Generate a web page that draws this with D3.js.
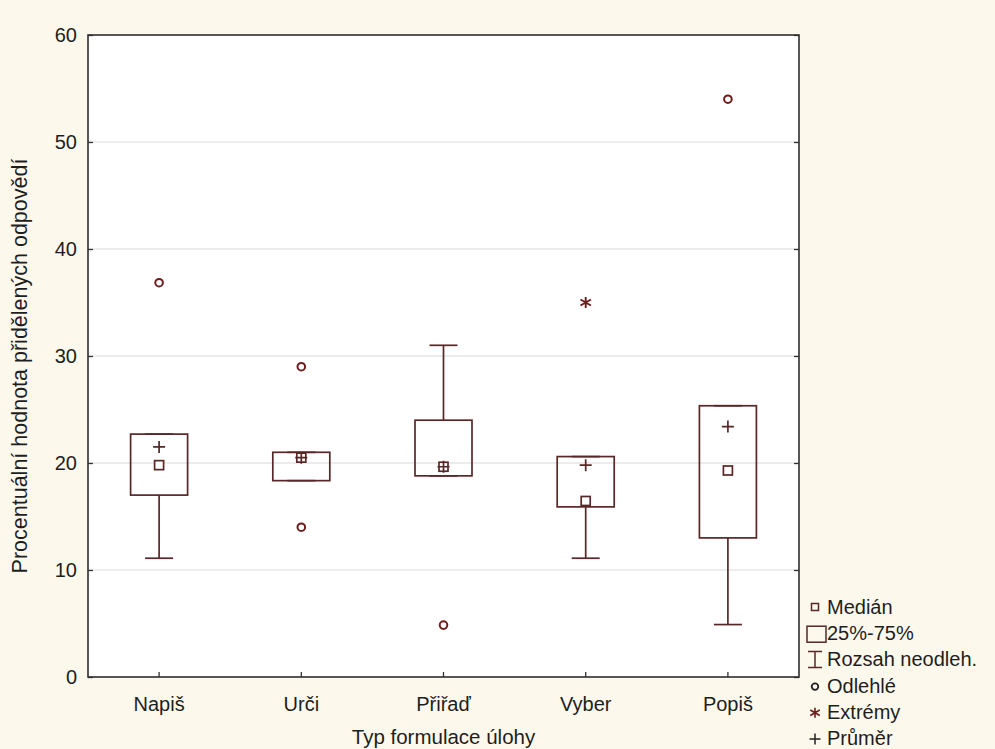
<!DOCTYPE html>
<html><head><meta charset="utf-8">
<script src="https://cdn.jsdelivr.net/npm/d3@7"></script>
<style>
html,body{margin:0;padding:0;background:#fcf8ec;}
svg{display:block;font-family:"Liberation Sans",Arial,sans-serif;}
</style></head><body>
<svg id="chart" width="995" height="749"></svg>
<script>
// ---- data ----
const categories = ["Napiš", "Urči", "Přiřaď", "Vyber", "Popiš"];
const q1         = [17.0, 18.35, 18.8, 15.9, 13.0];
const q3         = [22.7, 21.0, 24.0, 20.6, 25.35];
const medians    = [19.8, 20.5, 19.65, 16.45, 19.3];
const means      = [21.5, 20.5, 19.65, 19.8, 23.4];
const whiskerLow = [11.1, 18.35, 18.8, 11.1, 4.9];
const whiskerHigh= [22.7, 21.0, 31.0, 20.6, 25.35];
const outliers   = [["Napiš", 36.85], ["Urči", 29.0], ["Urči", 14.0], ["Přiřaď", 4.85], ["Popiš", 54.0]];
const extremes   = [["Vyber", 35.0]];
const yTicks     = [0, 10, 20, 30, 40, 50, 60];
const legendLabels = ["Medián", "25%-75%", "Rozsah neodleh.", "Odlehlé", "Extrémy", "Průměr"];
const xTitle = "Typ formulace úlohy";
const yTitle = "Procentuální hodnota přidělených odpovědí";

// ---- layout ----
const L = 88, T = 35, R = 799, B = 677;
const stroke = "#5a2727", mark = "#6e1d1d", textCol = "#1e1e1e";
const svg = d3.select("#chart");
svg.append("rect").attr("width", 995).attr("height", 749).attr("fill", "#fcf8ec");
svg.append("rect").attr("x", L).attr("y", T).attr("width", R - L).attr("height", B - T).attr("fill", "#ffffff");

const x = d3.scaleBand().domain(categories).range([L, R]);
const y = d3.scaleLinear().domain([0, 60]).range([B, T]);
const cx = c => x(c) + x.bandwidth() / 2;

// gridlines
svg.append("g").selectAll("line").data(yTicks.filter(t => t > 0 && t < 60)).join("line")
  .attr("x1", L).attr("x2", R).attr("y1", d => y(d)).attr("y2", d => y(d))
  .attr("stroke", "#d9d9d9").attr("stroke-width", 1.2);

// axes
const yAxis = svg.append("g").attr("transform", `translate(${L},0)`)
  .call(d3.axisLeft(y).tickValues(yTicks).tickSize(0).tickPadding(11));
const yAxisR = svg.append("g").attr("transform", `translate(${R},0)`)
  .call(d3.axisLeft(y).tickValues(yTicks).tickSize(5).tickFormat(""));
const yAxisL2 = svg.append("g").attr("transform", `translate(${L},0)`)
  .call(d3.axisRight(y).tickValues(yTicks).tickSize(5).tickFormat(""));
const xAxis = svg.append("g").attr("transform", `translate(0,${B})`)
  .call(d3.axisBottom(x).tickSize(0).tickPadding(20));
const xAxisTicks = svg.append("g").attr("transform", `translate(0,${B})`)
  .call(d3.axisTop(x).tickSize(5).tickFormat(""));
[yAxis, yAxisR, yAxisL2, xAxis, xAxisTicks].forEach(g => {
  g.select(".domain").remove();
  g.selectAll(".tick line").attr("stroke", "#333").attr("stroke-width", 1.3);
  g.selectAll("text").attr("font-size", 20).attr("fill", textCol).attr("font-family", "Liberation Sans, Arial, sans-serif");
});

// frame
svg.append("rect").attr("x", L).attr("y", T).attr("width", R - L).attr("height", B - T)
  .attr("fill", "none").attr("stroke", "#2e2e2e").attr("stroke-width", 1.6);

// boxes
const boxW = 57, capW = 28;
const g = svg.append("g");
categories.forEach((c, i) => {
  const X = cx(c);
  g.append("line").attr("x1", X).attr("x2", X).attr("y1", y(q1[i])).attr("y2", y(whiskerLow[i])).attr("stroke", stroke).attr("stroke-width", 1.7);
  g.append("line").attr("x1", X).attr("x2", X).attr("y1", y(q3[i])).attr("y2", y(whiskerHigh[i])).attr("stroke", stroke).attr("stroke-width", 1.7);
  [whiskerLow[i], whiskerHigh[i]].forEach(v => {
    g.append("line").attr("x1", X - capW / 2).attr("x2", X + capW / 2).attr("y1", y(v)).attr("y2", y(v)).attr("stroke", stroke).attr("stroke-width", 1.7);
  });
  g.append("rect").attr("x", X - boxW / 2).attr("y", y(q3[i])).attr("width", boxW).attr("height", y(q1[i]) - y(q3[i]))
    .attr("fill", "none").attr("stroke", stroke).attr("stroke-width", 1.7);
  g.append("rect").attr("x", X - 4.5).attr("y", y(medians[i]) - 4.5).attr("width", 9).attr("height", 9)
    .attr("fill", "#fff").attr("stroke", stroke).attr("stroke-width", 1.7);
  g.append("path").attr("d", `M${X - 6},${y(means[i])}H${X + 6}M${X},${y(means[i]) - 6}V${y(means[i]) + 6}`)
    .attr("stroke", stroke).attr("stroke-width", 1.7);
});
// outliers
g.selectAll("circle.out").data(outliers).join("circle").attr("class", "out")
  .attr("cx", d => cx(d[0])).attr("cy", d => y(d[1])).attr("r", 3.8)
  .attr("fill", "none").attr("stroke", mark).attr("stroke-width", 2);
// extremes (asterisk)
extremes.forEach(d => {
  const X = cx(d[0]), Y = y(d[1]), r = 5.5;
  const p = d3.path();
  p.moveTo(X, Y - r); p.lineTo(X, Y + r);
  p.moveTo(X - r * 0.95, Y - r * 0.55); p.lineTo(X + r * 0.95, Y + r * 0.55);
  p.moveTo(X - r * 0.95, Y + r * 0.55); p.lineTo(X + r * 0.95, Y - r * 0.55);
  g.append("path").attr("d", p.toString()).attr("stroke", mark).attr("stroke-width", 1.9);
});

// titles
svg.append("text").attr("x", (L + R) / 2).attr("y", 744).attr("text-anchor", "middle")
  .attr("font-size", 20.5).attr("fill", textCol).text(xTitle);
svg.append("text").attr("transform", `translate(27,366) rotate(-90)`).attr("text-anchor", "middle")
  .attr("font-size", 21.5).attr("fill", textCol).text(yTitle);

// legend
const lx = 815, ly0 = 607, lstep = 26.2;
const lg = svg.append("g");
legendLabels.forEach((t, i) => {
  const Y = ly0 + i * lstep;
  lg.append("text").attr("x", 827).attr("y", Y + 7).attr("font-size", 20).attr("fill", textCol).text(t);
  if (i === 0) lg.append("rect").attr("x", lx - 3.5).attr("y", Y - 3.5).attr("width", 7).attr("height", 7).attr("fill", "none").attr("stroke", stroke).attr("stroke-width", 1.5);
  if (i === 1) lg.append("rect").attr("x", lx - 8).attr("y", Y - 7).attr("width", 19).attr("height", 16).attr("fill", "none").attr("stroke", stroke).attr("stroke-width", 1.5);
  if (i === 2) lg.append("path").attr("d", `M${lx - 7},${Y - 8}H${lx + 7}M${lx},${Y - 8}V${Y + 8}M${lx - 7},${Y + 8}H${lx + 7}`).attr("stroke", stroke).attr("stroke-width", 1.5).attr("fill", "none");
  if (i === 3) lg.append("circle").attr("cx", lx).attr("cy", Y + 1).attr("r", 3.3).attr("fill", "none").attr("stroke", "#222").attr("stroke-width", 1.8);
  if (i === 4) {
    const r = 5, X = lx, YY = Y + 1, p = d3.path();
    p.moveTo(X, YY - r); p.lineTo(X, YY + r);
    p.moveTo(X - r * 0.95, YY - r * 0.55); p.lineTo(X + r * 0.95, YY + r * 0.55);
    p.moveTo(X - r * 0.95, YY + r * 0.55); p.lineTo(X + r * 0.95, YY - r * 0.55);
    lg.append("path").attr("d", p.toString()).attr("stroke", mark).attr("stroke-width", 1.6);
  }
  if (i === 5) lg.append("path").attr("d", `M${lx - 5.5},${Y + 1}H${lx + 5.5}M${lx},${Y - 4.5}V${Y + 6.5}`).attr("stroke", "#222").attr("stroke-width", 1.5);
});
</script>
</body></html>
